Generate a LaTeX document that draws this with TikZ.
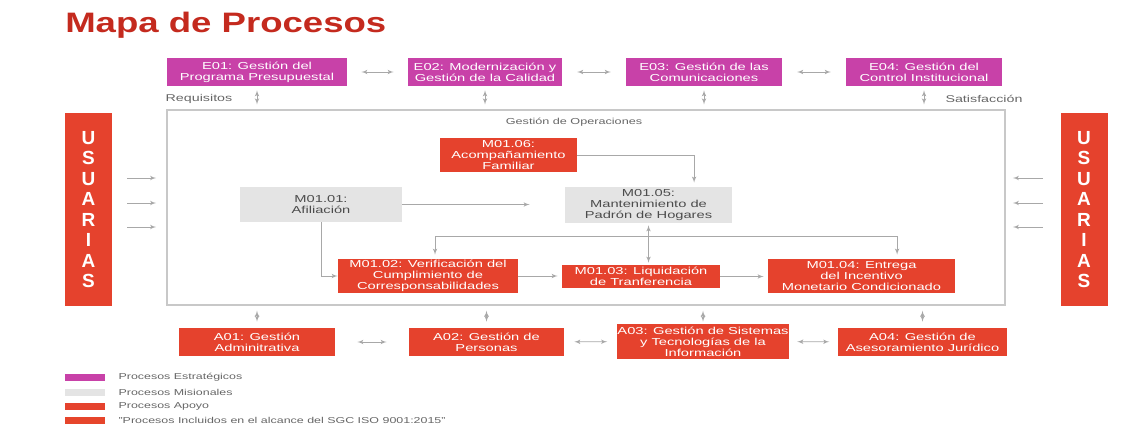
\documentclass[tikz,border=0pt]{standalone}
\usepackage{fontspec}
\setmainfont{Liberation Sans}[FakeStretch=1.45]
\newfontfamily\titlefont{Liberation Sans}[FakeStretch=1.3]
\newfontfamily\userfont{Liberation Sans}
\usepackage{tikz}
\usetikzlibrary{positioning}
\usetikzlibrary{calc}
\usetikzlibrary{arrows}

\definecolor{estrat}{HTML}{C841A8}
\definecolor{apoyo}{HTML}{E5422D}
\definecolor{mision}{HTML}{E4E4E4}
\definecolor{titulo}{HTML}{C42A1E}
\definecolor{conector}{HTML}{A8A8A8}
\definecolor{marco}{HTML}{C8C8C8}
\definecolor{etiqueta}{HTML}{666666}

\begin{document}
\begin{tikzpicture} [
    x=0.025cm, y=0.025cm,          % one unit is one pixel of the layout
    ]
% -------------------------------------------------
\tikzset{
  base/.style={rectangle, inner sep=0pt, align=center, font=\fontsize{7.2}{7.8}\selectfont},
  estr/.style={base, fill=estrat, text=white, minimum height=0.7cm},
  apoy/.style={base, fill=apoyo, text=white, minimum height=0.7cm},
  misi/.style={base, fill=mision, text=black!70},
  users/.style={base, fill=apoyo, text=white, minimum width=1.175cm, minimum height=4.825cm,
                font=\userfont\bfseries\fontsize{13.5}{14.6}\selectfont},
  frame/.style={draw=marco, line width=1pt, minimum width=20.95cm, minimum height=4.875cm},
  tag/.style={inner sep=0pt, text=etiqueta, font=\fontsize{7}{8}\selectfont},
  swatch/.style={inner sep=0pt, minimum width=1cm, minimum height=0.175cm},
  legend/.style={inner sep=0pt, text=etiqueta, font=\fontsize{6.1}{7}\selectfont},
  line/.style={draw=conector, line width=0.5pt},
  flow/.style={line, -latex'},
  link/.style={line, latex'-latex'}
}

    \node [frame] (ops) at (586,-207.5) {};                                   % operations frame

    \node [anchor=base west, inner sep=0pt, text=titulo,
           font=\titlefont\bfseries\fontsize{20}{24}\selectfont] (ttl) at (65,-33) {Mapa de Procesos};

    \node [estr, minimum width=4.5cm]  (e01) at (257,-72) {E01: Gestión del\\Programa Presupuestal};
    \node [estr, minimum width=3.85cm] (e02) at (485,-72) {E02: Modernización y\\Gestión de la Calidad};
    \node [estr, minimum width=3.9cm]  (e03) at (704,-72) {E03: Gestión de las\\Comunicaciones};
    \node [estr, minimum width=3.9cm]  (e04) at (924,-72) {E04: Gestión del\\Control Institucional};

    \node [tag] (req) at (199,-99) {Requisitos};
    \node [tag] (sat) at (984,-99) {Satisfacción};
    \node [tag, font=\fontsize{6.2}{7}\selectfont] (gop) at (574,-122) {Gestión de Operaciones};

    \node [users] (usl) at (88.5,-209.5) {U\\S\\U\\A\\R\\I\\A\\S};
    \node [users] (usr) at (1084,-209.5) {U\\S\\U\\A\\R\\I\\A\\S};

    \node [apoy, minimum width=3.425cm, minimum height=0.85cm] (m06) at (508.5,-155) {M01.06:\\Acompañamiento\\Familiar};
    \node [misi, minimum width=4.05cm, minimum height=0.875cm] (m01) at (321,-204.5) {M01.01:\\Afiliación};
    \node [misi, minimum width=4.175cm, minimum height=0.9cm]  (m05) at (648.5,-205) {M01.05:\\Mantenimiento de\\Padrón de Hogares};
    \node [apoy, minimum width=4.5cm, minimum height=0.85cm]   (m02) at (428,-276) {M01.02: Verificación del\\Cumplimiento de\\Corresponsabilidades};
    \node [apoy, minimum width=3.95cm, minimum height=0.575cm] (m03) at (641,-276.5) {M01.03: Liquidación\\de Tranferencia};
    \node [apoy, minimum width=4.675cm, minimum height=0.85cm] (m04) at (861.5,-276) {M01.04: Entrega\\del Incentivo\\Monetario Condicionado};

    \node [apoy, minimum width=3.9cm]   (a01) at (257,-342) {A01: Gestión\\Adminitrativa};
    \node [apoy, minimum width=3.875cm] (a02) at (486.5,-342) {A02: Gestión de\\Personas};
    \node [apoy, minimum width=4.25cm, minimum height=0.875cm] (a03) at (703,-341.5) {A03: Gestión de Sistemas\\y Tecnologías de la\\Información};
    \node [apoy, minimum width=4.225cm] (a04) at (922.5,-342) {A04: Gestión de\\Asesoramiento Jurídico};

    % legend
    \node [swatch, fill=estrat] (lg1) at (85,-377) {};
    \node [swatch, fill=mision] (lg2) at (85,-392) {};
    \node [swatch, fill=apoyo]  (lg3) at (85,-406) {};
    \node [swatch, fill=apoyo!95!orange] (lg4) at (85,-420) {};
    \node [legend, right=0.325cm of lg1] (lt1) {Procesos Estratégicos};
    \node [legend, right=0.325cm of lg2] (lt2) {Procesos Misionales};
    \node [legend, right=0.325cm of lg3] (lt3) {Procesos Apoyo};
    \node [legend, right=0.325cm of lg4] (lt4) {"Procesos Incluidos en el alcance del SGC ISO 9001:2015"};

    % strategic row
    \path [link, shorten <=0.35cm, shorten >=0.35cm] (e01) -- (e02);
    \path [link, shorten <=0.37cm, shorten >=0.37cm] (e02) -- (e03);
    \path [link, shorten <=0.37cm, shorten >=0.37cm] (e03) -- (e04);
    \foreach \n in {e01,e02,e03,e04}
      \path [link, shorten <=0.1cm, shorten >=0.12cm] (\n.south) -- (\n.south |- ops.north);

    % support row
    \path [link, shorten <=0.55cm, shorten >=0.55cm] (a01) -- (a02);
    \path [link, shorten <=0.25cm, shorten >=0.25cm] (a02) -- (a03);
    \path [link, shorten <=0.21cm, shorten >=0.21cm] (a03) -- (a04);
    \foreach \n in {a01,a02,a04}
      \path [link, shorten <=0.125cm, shorten >=0.15cm] (\n.north |- ops.south) -- (\n.north);
    \path [link, shorten <=0.125cm, shorten >=0.05cm] (a03.north |- ops.south) -- (a03.north);

    % users in and out
    \foreach \y in {-178,-203,-227} {
      \path [flow, shorten <=0.375cm, shorten >=0.25cm] (usl.east |- 0,\y) -- (ops.west |- 0,\y);
      \path [flow, shorten <=0.425cm, shorten >=0.175cm] (usr.west |- 0,\y) -- (ops.east |- 0,\y);
    }

    % operations
    \path [flow, shorten >=0.875cm] (m01.east) -- (m01.east -| m05.west);
    \path [flow, shorten >=0.1cm] (m06.east) -| ([xshift=1.14cm]m05.north);
    \path [flow] (m01.south) |- (m02.west);
    \path [flow, shorten >=0.1cm] (m02.east) -- (m02.east -| m03.west);
    \path [flow, shorten >=0.1cm] (m03.east) -- (m03.east -| m04.west);

    \coordinate (bus) at ($(m05.south)!0.31!(m05.south |- m03.north)$);
    \path [link, shorten <=0.05cm, shorten >=0.05cm] (m05.south) -- (m05.south |- m03.north);
    \path [flow, shorten >=0.1cm] (bus) -| ([xshift=0.175cm]m02.north);
    \path [flow, shorten >=0.1cm] (bus) -| ([xshift=0.89cm]m04.north);

    \useasboundingbox (0,0) rectangle (1136,-433);
\end{tikzpicture}
\end{document}
